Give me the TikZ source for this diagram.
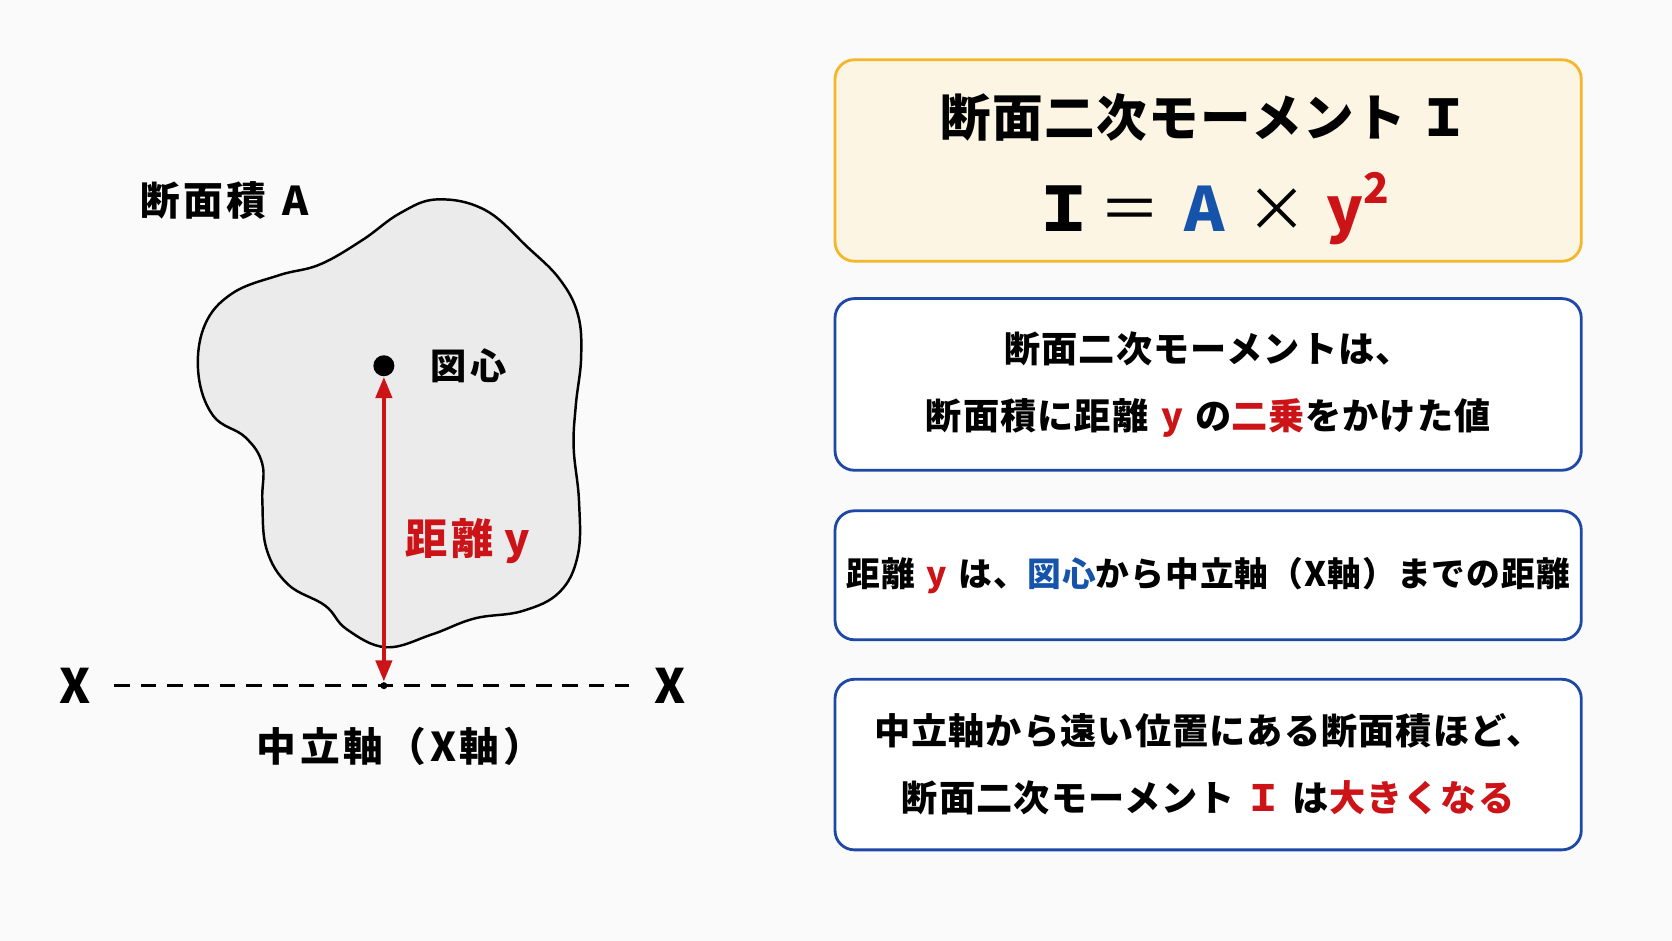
\documentclass[tikz,border=0pt]{standalone}
\usepackage{fontspec}
\setmainfont{Noto Sans CJK JP}[LetterSpace=3]
\usetikzlibrary{arrows.meta, positioning}
\definecolor{redtxt}{RGB}{204,20,24}
\definecolor{bluetxt}{RGB}{22,84,172}
\definecolor{boxblue}{RGB}{30,72,166}
\definecolor{boxorange}{RGB}{246,182,42}
\definecolor{boxcream}{RGB}{253,245,227}
\definecolor{blobgray}{RGB}{235,235,235}
\definecolor{bggray}{RGB}{250,250,250}

\begin{document}
\begin{tikzpicture}[
    x=0.010663cm, y=-0.010663cm,
    lbl/.style={inner sep=0pt, font=\bfseries\fontsize{11}{13}\selectfont},
    spaced/.style={font=\bfseries\fontsize{#1}{15}\selectfont\addfontfeature{LetterSpace=9}},
    infobox/.style={draw=boxblue, line width=0.8pt, rounded corners=5.5pt, fill=white,
        minimum width=7.464cm, align=center, inner sep=0pt,
        font=\bfseries\fontsize{10.3}{19.1}\selectfont},
    dimarrow/.style={{Triangle[length=6pt,width=4.6pt]}-{Triangle[length=6pt,width=4.6pt]},
        redtxt, line width=1.1pt},
    axisline/.style={dash pattern=on 4.4pt off 3.1pt, line width=0.85pt,
        shorten <=6.7pt, shorten >=7pt},
]
\fill[bggray] (0,0) rectangle (1568,882);
\draw[line width=0.7pt, fill=blobgray] plot[smooth cycle, tension=0.65] coordinates {
    (410,187) (455,197) (495,232) (525,262) (542,295) (545,335) (540,380) (538,420)
    (543,470) (542,520) (525,555) (490,573) (445,580) (405,595) (362,607) (325,590)
    (305,568) (270,548) (250,515) (246,470) (246,435) (230,410) (200,390) (186,350)
    (192,305) (218,275) (262,258) (300,248) (340,225) (375,200)};
\node[lbl, spaced=11.3, anchor=west] (area) at (131,188) {断面積\hspace{0.4em}A};
\node[circle, fill=black, inner sep=0pt, minimum size=0.21cm] (cen) at (360,343) {};
\node[lbl, spaced=10.3, right=0.35cm of cen] (cenlbl) {図心};
\node[circle, fill=black, inner sep=0pt, minimum size=2pt] (ax) at (360,643) {};
\node[lbl, font=\bfseries\fontsize{13.5}{15}\selectfont] (xl) at (70,643) {X};
\node[lbl, font=\bfseries\fontsize{13.5}{15}\selectfont] (xr) at (628,643) {X};
\draw[axisline] (xl) -- (xr);
\draw[dimarrow] (cen) -- (ax);
\node[lbl, spaced=12, text=redtxt, anchor=west] (dist) at (380,507) {距離\hspace{0.25em}y};
\node[lbl, spaced=11.3] (axlbl) at (375,700) {中立軸（X軸）};

\node[draw=boxorange, line width=0.8pt, rounded corners=5.5pt, fill=boxcream,
    minimum width=7.464cm, minimum height=2.015cm] (defbox) at (1133,150.5) {};
\node[lbl, font=\bfseries\fontsize{14.4}{16}\selectfont] (deftitle) at (1130,110) {断面二次モーメント Ｉ};
\node[lbl, font=\bfseries\fontsize{17.4}{20}\selectfont, anchor=base] (defform) at (1136,217)
    {Ｉ\hspace{0.07em}{\mdseries ＝}\hspace{0.4em}\textcolor{bluetxt}{A}\hspace{0.35em}{\mdseries ×}\hspace{0.3em}\textcolor{redtxt}{y\raisebox{0.45em}{\fontsize{12}{12}\selectfont 2}}};

\node[infobox, minimum height=1.717cm] (meaning) at (1133,360.5)
    {断面二次モーメントは、\\断面積に距離\hspace{0.35em}\textcolor{redtxt}{y}\hspace{0.35em}の\textcolor{redtxt}{二乗}をかけた値};
\node[infobox, minimum height=1.290cm, font=\bfseries\fontsize{9.6}{19}\selectfont] (distdef) at (1133,539.5)
    {距離\hspace{0.35em}\textcolor{redtxt}{y}\hspace{0.35em}は、\textcolor{bluetxt}{図心}から中立軸（X軸）までの距離};
\node[infobox, minimum height=1.706cm] (effect) at (1133,717)
    {中立軸から遠い位置にある断面積ほど、\\断面二次モーメント\hspace{0.3em}\textcolor{redtxt}{Ｉ}\hspace{0.3em}は\textcolor{redtxt}{大きくなる}};
\end{tikzpicture}
\end{document}
